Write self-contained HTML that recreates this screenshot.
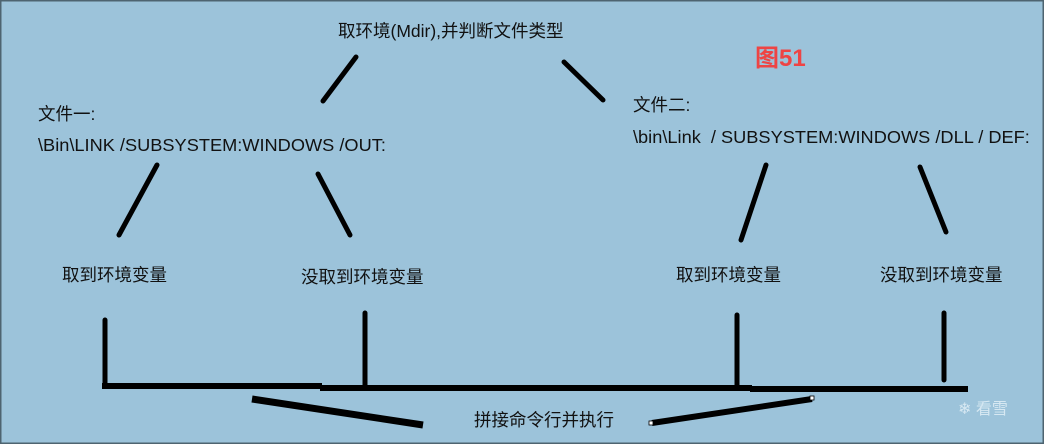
<!DOCTYPE html>
<html><head><meta charset="utf-8"><style>
body{margin:0}
.c{position:relative;width:1044px;height:444px;background:#9cc3da;overflow:hidden;font-family:"Liberation Sans","Noto Sans CJK SC",sans-serif;color:#111}
.t{position:absolute;font-size:17.5px;white-space:nowrap;line-height:1}
.s{transform:scaleX(1.04);transform-origin:0 0}
svg{position:absolute;left:0;top:0}
</style></head><body><div class="c">
<svg width="1044" height="444">
<g stroke="#000" stroke-width="5" stroke-linecap="round" fill="none">
<line x1="356" y1="57" x2="323" y2="101"/>
<line x1="564" y1="62" x2="603" y2="100"/>
<line x1="157" y1="165" x2="119" y2="235"/>
<line x1="318" y1="174" x2="350" y2="235"/>
<line x1="766" y1="165" x2="741" y2="240"/>
<line x1="920" y1="167" x2="946" y2="232"/>
<line x1="105" y1="320" x2="105" y2="386"/>
<line x1="365" y1="313" x2="365" y2="386"/>
<line x1="737" y1="315" x2="737" y2="386"/>
<line x1="944" y1="313" x2="944" y2="380"/>
</g>
<g stroke="#000" stroke-width="6" fill="none">
<line x1="102" y1="386" x2="322" y2="386"/>
<line x1="320" y1="388" x2="752" y2="388"/>
<line x1="750" y1="389" x2="968" y2="389"/>
<line x1="252" y1="399" x2="423" y2="425" stroke-width="7"/>
<line x1="652" y1="423" x2="812" y2="399"/>
</g>
<rect x="810" y="396" width="4" height="4" fill="#fff" stroke="#000" stroke-width="0.8"/>
<rect x="649" y="421" width="4" height="4" fill="#fff" stroke="#000" stroke-width="0.8"/>
<rect x="0" y="0" width="1044" height="444" fill="none" stroke="#4e6470" stroke-width="3"/>
</svg>
<div class="t" style="left:338px;top:23px">取环境(Mdir),并判断文件类型</div>
<div class="t" style="left:755px;top:47px;color:#ee4444;font-size:24px;font-weight:bold">图51</div>
<div class="t" style="left:38px;top:106px">文件一:</div>
<div class="t s" style="left:38px;top:137px">\Bin\LINK /SUBSYSTEM:WINDOWS /OUT:</div>
<div class="t" style="left:633px;top:97px">文件二:</div>
<div class="t s" style="left:633px;top:129px">\bin\Link&nbsp; / SUBSYSTEM:WINDOWS /DLL / DEF:</div>
<div class="t" style="left:62px;top:267px">取到环境变量</div>
<div class="t" style="left:301px;top:269px">没取到环境变量</div>
<div class="t" style="left:676px;top:267px">取到环境变量</div>
<div class="t" style="left:880px;top:267px">没取到环境变量</div>
<div class="t" style="left:474px;top:412px">拼接命令行并执行</div>
<div class="t" style="left:958px;top:402px;color:#d6e8f2;font-size:16px">❄ 看雪</div>
</div></body></html>
